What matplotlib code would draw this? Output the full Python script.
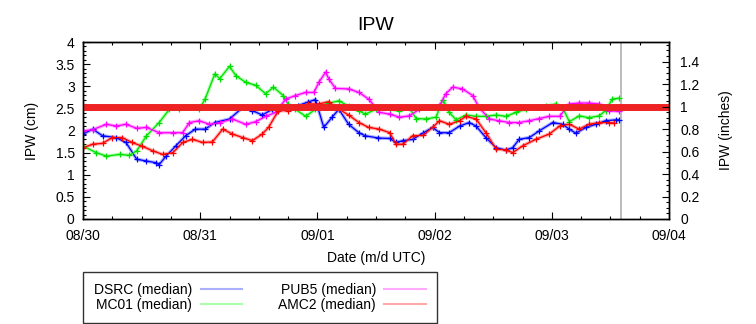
import matplotlib
matplotlib.use("Agg")
import matplotlib.pyplot as plt
from matplotlib.ticker import MultipleLocator, FormatStrFormatter
import numpy as np

plt.rcParams['font.family'] = ['Liberation Sans', 'DejaVu Sans']

# ---- data (hours since 08/30 00:00 UTC, IPW in cm) ----
dsrc_h = [0, 2, 4, 6.8, 8.8, 11, 13, 15, 15.6, 17, 19, 21, 23, 25, 27, 30, 32.7, 34.7, 36.7, 38.8, 40, 42, 44, 46, 47.6, 49.3, 51, 52.4, 54.4, 56.5, 57.8, 60.5,
          62.8, 64.1, 65.5, 67.5, 69.6, 71.6, 73, 75, 77.1, 79.1, 80.5, 82.5, 84.6, 86.6, 88, 89.3, 91.4, 93.4, 96.2, 98.2, 99.6, 100.9, 103, 105, 107, 109.1, 109.8]
dsrc_v = [1.92, 2.03, 1.88, 1.84, 1.73, 1.35, 1.31, 1.27, 1.23, 1.42, 1.65, 1.88, 2.03, 2.03, 2.18, 2.26, 2.52, 2.45, 2.35, 2.48, 2.48, 2.52, 2.56, 2.64, 2.70, 2.07, 2.30, 2.48, 2.14, 1.95, 1.88, 1.83,
          1.82, 1.73, 1.77, 1.80, 1.94, 2.07, 1.95, 1.95, 2.10, 2.18, 2.10, 1.84, 1.61, 1.56, 1.61, 1.80, 1.84, 1.99, 2.18, 2.14, 2.03, 1.94, 2.07, 2.14, 2.22, 2.24, 2.24]

mc01_h = [0, 2.7, 4.8, 7.5, 9.5, 11, 13, 15.6, 17.7, 19.7, 21.8, 23.8, 25, 27, 28, 30, 31.3, 33.3, 35.4, 37.4, 39, 41, 42, 43.5, 45.6, 47.6, 49.7, 52.4, 54.4, 56.5, 57.8, 60,
          62.8, 64.8, 66.8, 68.2, 70.3, 72.3, 73.7, 75, 76.4, 78.4, 80.5, 82.5, 84.6, 86.6, 88.7, 90.7, 92.7, 94.8, 96.8, 98.2, 99.6, 101.6, 103.6, 105.7, 107, 108.4, 109.8]
mc01_v = [1.65, 1.50, 1.42, 1.46, 1.44, 1.54, 1.88, 2.18, 2.48, 2.48, 2.52, 2.48, 2.71, 3.28, 3.17, 3.45, 3.24, 3.09, 3.02, 2.83, 2.98, 2.79, 2.60, 2.48, 2.32, 2.48, 2.60, 2.67, 2.55, 2.45, 2.37, 2.48,
          2.48, 2.45, 2.52, 2.27, 2.26, 2.30, 2.70, 2.41, 2.24, 2.35, 2.32, 2.32, 2.35, 2.32, 2.41, 2.48, 2.52, 2.55, 2.60, 2.52, 2.20, 2.33, 2.29, 2.33, 2.45, 2.71, 2.73]

pub5_h = [0, 2, 4.8, 6.8, 8.8, 11, 13, 15.6, 18.4, 20.4, 21.8, 23.8, 25.9, 28, 30.6, 33.3, 35.4, 37.4, 39.5, 41.5, 43.5, 45.6, 47.3, 48.3, 49.7, 50.3, 51.7, 54.4, 56.5, 58.5, 60.7,
          62.8, 64.8, 66.8, 68.9, 70.9, 73, 74.3, 75.7, 77.7, 79.8, 81.1, 83.2, 85.2, 87.3, 89.3, 91.4, 93.4, 95.5, 97.6, 99.6, 101.6, 103.6, 105.7, 107.8, 109.8]
pub5_v = [1.99, 2.02, 2.14, 2.10, 2.14, 2.05, 2.07, 1.95, 1.95, 1.95, 2.18, 2.22, 2.14, 2.18, 2.26, 2.14, 2.20, 2.32, 2.41, 2.71, 2.79, 2.86, 2.86, 3.09, 3.32, 3.17, 2.95, 2.94, 2.86, 2.71, 2.41,
          2.37, 2.30, 2.33, 2.48, 2.52, 2.56, 2.83, 2.98, 2.94, 2.79, 2.52, 2.26, 2.22, 2.18, 2.18, 2.22, 2.27, 2.32, 2.32, 2.60, 2.62, 2.62, 2.60, 2.45, 2.43]

amc2_h = [0, 2, 4, 6, 8, 10, 12, 14.3, 16.3, 18.4, 20.4, 22.4, 24.5, 26.5, 28.6, 30.6, 32.7, 34.7, 36.7, 38, 40, 42, 44, 46, 48.3, 50.3, 52.4, 54.4, 56.5, 58.5, 60.7,
          62.8, 64.1, 65.5, 67.5, 69.6, 71.6, 73, 75, 77.1, 78.4, 80.5, 82.5, 84.6, 86.6, 88, 90, 92.7, 95.5, 97.6, 99.6, 101.6, 103.6, 105.7, 107.8, 108.8]
amc2_v = [1.61, 1.69, 1.71, 1.84, 1.84, 1.73, 1.65, 1.54, 1.46, 1.50, 1.73, 1.80, 1.73, 1.74, 2.03, 1.92, 1.84, 1.77, 1.92, 2.07, 2.45, 2.45, 2.52, 2.60, 2.60, 2.65, 2.48, 2.35, 2.18, 2.07, 2.03,
          1.95, 1.69, 1.69, 1.88, 1.89, 2.07, 2.22, 2.14, 2.22, 2.32, 2.26, 1.95, 1.58, 1.56, 1.50, 1.65, 1.80, 1.92, 2.10, 2.14, 2.03, 2.14, 2.18, 2.18, 2.17]

threshold_cm = 2.54
current_time_h = 110.2
day_labels = ['08/30', '08/31', '09/01', '09/02', '09/03', '09/04']

series = [
    ('DSRC (median)', dsrc_h, dsrc_v, '#0000ff', '#aab0ff'),
    ('MC01 (median)', mc01_h, mc01_v, '#00e000', '#aaffaa'),
    ('PUB5 (median)', pub5_h, pub5_v, '#ff00ff', '#ffaaff'),
    ('AMC2 (median)', amc2_h, amc2_v, '#ff0000', '#ffaaaa'),
]

fig = plt.figure(figsize=(7.56, 3.24), dpi=100)
ax = fig.add_axes([83/756, 1 - 219/324, (669-83)/756, (219-42)/324])

handles = {}
for name, h, v, dark, pale in series:
    ax.plot(h, v, color=pale, lw=2.5, zorder=2, solid_capstyle='round')
    ax.plot(h, v, color=dark, lw=0.9, marker='+', ms=5, mew=0.9, zorder=3)
    handles[name] = plt.Line2D([], [], color=pale, lw=1.5)

ax.axhline(threshold_cm, color='#ee2222', lw=5.0, zorder=4)
ax.axvline(current_time_h, color='#b0b0b0', lw=1.2, zorder=1)

ax.set_xlim(0, 120)
ax.set_ylim(0, 4)
ax.set_xticks(np.arange(0, 121, 24))
ax.set_xticklabels(day_labels)
ax.xaxis.set_minor_locator(MultipleLocator(6))
ax.yaxis.set_major_locator(MultipleLocator(0.5))
ax.yaxis.set_minor_locator(MultipleLocator(0.1))
ax.yaxis.set_major_formatter(FormatStrFormatter('%g'))
ax.tick_params(which='both', direction='in', top=True, labelsize=10, width=0.8)
ax.tick_params(axis='y', which='both', right=False, pad=6)
ax.tick_params(axis='x', which='both', pad=7)
ax.tick_params(which='major', length=5)
ax.tick_params(which='minor', length=2.5)
ax.set_xlabel('Date (m/d UTC)', fontsize=10, labelpad=6)
ax.set_ylabel('IPW (cm)', fontsize=10, labelpad=12)
ax.set_title('IPW', fontsize=14, pad=9)

ax2 = ax.twinx()
ax2.set_ylim(0, 4/2.54)
ax2.yaxis.set_major_locator(MultipleLocator(0.2))
ax2.yaxis.set_minor_locator(MultipleLocator(0.05))
ax2.yaxis.set_major_formatter(FormatStrFormatter('%g'))
ax2.tick_params(which='both', direction='in', labelsize=10, width=0.8, pad=8)
ax2.tick_params(which='major', length=5)
ax2.tick_params(which='minor', length=2.5)
ax2.set_ylabel('IPW (inches)', fontsize=10, labelpad=14)

for a in (ax, ax2):
    for s in a.spines.values():
        s.set_linewidth(1.0)

order = ['DSRC (median)', 'MC01 (median)', 'PUB5 (median)', 'AMC2 (median)']
leg = fig.legend([handles[k] for k in order], order, loc='upper left',
                 bbox_to_anchor=(83/756, 1 - 272/324), ncol=2, markerfirst=False,
                 frameon=True, fancybox=False, edgecolor='black', fontsize=10,
                 handlelength=3.0, columnspacing=2.6, borderpad=0.8,
                 labelspacing=0.05, handletextpad=0.6, borderaxespad=0)
leg.get_frame().set_linewidth(1.0)

fig.savefig('out.png', dpi=100)
